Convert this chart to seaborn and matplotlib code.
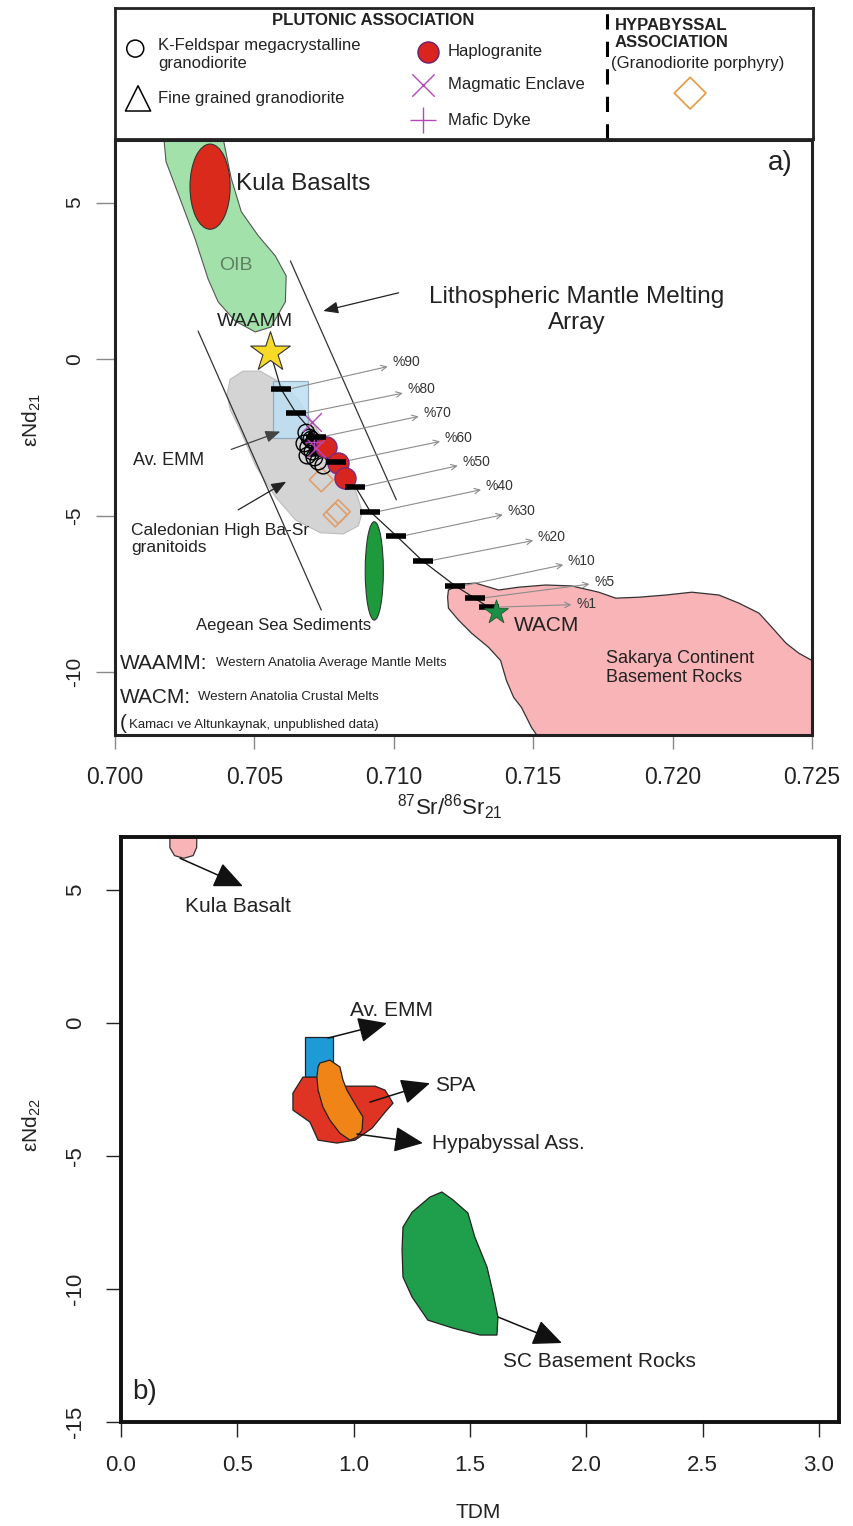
import matplotlib
matplotlib.use("Agg")
import matplotlib.pyplot as plt
from matplotlib.patches import Ellipse, Rectangle
import seaborn as sns

sns.set_theme(style="white")
plt.rcParams["font.family"] = ["Liberation Sans", "DejaVu Sans"]
plt.rcParams["mathtext.fontset"] = "custom"
plt.rcParams["mathtext.rm"] = "Liberation Sans"
plt.rcParams["mathtext.it"] = "Liberation Sans:italic"
plt.rcParams["axes.facecolor"] = "white"
plt.rcParams["figure.facecolor"] = "white"

# ---------------- panel a: 87Sr/86Sr vs eNd (21 Ma) ----------------
# reference fields
oib_sr = [0.70172, 0.70183, 0.70233, 0.70287, 0.70334, 0.70370, 0.70431, 0.70503, 0.70560,
          0.70611, 0.70614, 0.70575, 0.70514, 0.70453, 0.70417, 0.70395, 0.70381]
oib_nd = [7.37, 6.31, 5.13, 3.85, 2.56, 1.83, 1.22, 0.87, 1.03,
          1.83, 2.66, 3.30, 3.94, 4.71, 5.77, 6.73, 7.37]

caledonian_sr = [0.70460, 0.70413, 0.70402, 0.70413, 0.70453, 0.70506, 0.70575, 0.70647, 0.70736,
                 0.70819, 0.70873, 0.70887, 0.70862, 0.70801, 0.70729, 0.70657, 0.70585, 0.70521]
caledonian_nd = [-0.38, -0.64, -1.12, -1.60, -2.34, -3.43, -4.39, -5.13, -5.54,
                 -5.58, -5.32, -4.87, -4.17, -3.30, -2.31, -1.28, -0.71, -0.38]

sakarya_sr = [0.71196, 0.71243, 0.71293, 0.71376, 0.71448, 0.71545, 0.71638, 0.71735, 0.71796,
              0.71879, 0.71976, 0.72069, 0.72166, 0.72238, 0.72310, 0.72356, 0.72407, 0.72453,
              0.72500, 0.72525, 0.72525, 0.71519, 0.71519, 0.71494, 0.71458, 0.71430, 0.71404,
              0.71383, 0.71340, 0.71279, 0.71232, 0.71196, 0.71193]
sakarya_nd = [-7.37, -7.18, -7.15, -7.37, -7.28, -7.21, -7.24, -7.44, -7.63,
              -7.60, -7.53, -7.44, -7.53, -7.79, -8.11, -8.56, -9.07, -9.39,
              -9.62, -9.62, -12.34, -12.34, -12.08, -11.76, -11.12, -10.80, -10.26,
              -9.62, -9.20, -8.75, -8.33, -7.95, -7.60]

# Av. EMM box (Sr min, Sr max, Nd min, Nd max)
emm_box_a = [0.70568, 0.70693, -2.50, -0.71]
# ellipse fields: centre Sr, centre Nd, Sr width, Nd height
kula_ell = [0.70341, 5.51, 0.00144, 2.72]
aegean_ell = [0.70930, -6.76, 0.00065, 3.14]

# lithospheric mantle melting array bounds (two lines)
lmma_left_sr = [0.70298, 0.70740]
lmma_left_nd = [0.90, -8.01]
lmma_right_sr = [0.70629, 0.71009]
lmma_right_nd = [3.14, -4.49]

# end-members
waamm_sr, waamm_nd = 0.70557, 0.22
wacm_sr, wacm_nd = 0.71365, -8.08

# mixing model (percent mantle component)
mix_pct = [90, 80, 70, 60, 50, 40, 30, 20, 10, 5, 1]
mix_sr = [0.70596, 0.70650, 0.70722, 0.70794, 0.70862, 0.70916, 0.71009, 0.71103, 0.71221, 0.71290, 0.71340]
mix_nd = [-0.96, -1.73, -2.47, -3.27, -4.07, -4.87, -5.64, -6.44, -7.24, -7.63, -7.92]

# samples
kfs_sr = [0.70686, 0.70697, 0.70679, 0.70693, 0.70708, 0.70690, 0.70715, 0.70729, 0.70722, 0.70704, 0.70747]
kfs_nd = [-2.34, -2.50, -2.69, -2.82, -2.95, -3.08, -3.14, -3.27, -2.72, -2.56, -3.40]
fine_sr = [0.70700, 0.70715]
fine_nd = [-2.44, -2.88]
haplo_sr = [0.70758, 0.70801, 0.70826]
haplo_nd = [-2.79, -3.33, -3.78]
enclave_sr = [0.70708, 0.70722]
enclave_nd = [-2.02, -2.82]
dyke_sr = [0.70715]
dyke_nd = [-2.63]
porphyry_sr = [0.70740, 0.70790, 0.70801]
porphyry_nd = [-3.85, -4.97, -4.87]

# ---------------- panel b: TDM vs eNd (22 Ma) ----------------
kula_b_tdm = [0.21, 0.21, 0.23, 0.27, 0.31, 0.325, 0.327]
kula_b_nd = [7.5, 6.6, 6.3, 6.2, 6.3, 6.6, 7.5]
emm_box_b = [0.791, 0.911, -2.03, -0.53]
spa_tdm = [0.782, 0.739, 0.739, 0.812, 0.847, 0.928, 1.006, 1.079, 1.135, 1.169, 1.135, 1.092, 0.963, 0.898, 0.855]
spa_nd = [-2.03, -2.63, -3.27, -3.72, -4.40, -4.51, -4.40, -3.95, -3.35, -3.01, -2.52, -2.37, -2.37, -2.26, -2.03]
hyp_tdm = [0.855, 0.898, 0.941, 0.954, 0.971, 1.014, 1.040, 1.036, 1.014, 0.984, 0.941, 0.898, 0.868, 0.847, 0.842, 0.847]
hyp_nd = [-1.50, -1.39, -1.65, -2.14, -2.52, -3.16, -3.53, -4.02, -4.29, -4.40, -4.14, -3.65, -3.16, -2.52, -2.03, -1.65]
scb_tdm = [1.379, 1.328, 1.251, 1.212, 1.208, 1.212, 1.251, 1.319, 1.427, 1.543, 1.616, 1.620, 1.599, 1.573, 1.521, 1.491, 1.427]
scb_nd = [-6.35, -6.54, -7.11, -7.67, -8.53, -9.55, -10.30, -11.17, -11.47, -11.73, -11.73, -11.05, -10.15, -9.17, -8.05, -7.14, -6.65]

# ---------------- figure ----------------
W, H = 854, 1526
fig = plt.figure(figsize=(W / 100, H / 100), dpi=100)


def box(l, t, r, b):
    return [l / W, 1 - b / H, (r - l) / W, (b - t) / H]


ax_leg = fig.add_axes(box(115, 8, 813, 139))
ax_a = fig.add_axes(box(115, 140, 812, 735))
ax_b = fig.add_axes(box(121, 837, 839, 1422))

TXT = "#222222"

# ---------- legend panel ----------
ax_leg.set_xlim(0, 1)
ax_leg.set_ylim(0, 1)
ax_leg.set_xticks([])
ax_leg.set_yticks([])
for s in ax_leg.spines.values():
    s.set_linewidth(2.0)
    s.set_color("#222222")
ax_leg.text(0.37, 0.905, "PLUTONIC ASSOCIATION", fontsize=12, fontweight="bold", ha="center", va="center", color=TXT)
ax_leg.scatter([0.029], [0.69], s=150, marker="o", facecolors="none", edgecolors="black", linewidths=1.1)
ax_leg.text(0.062, 0.645, "K-Feldspar megacrystalline\ngranodiorite", fontsize=12, ha="left", va="center",
            color=TXT, linespacing=1.2)
ax_leg.scatter([0.033], [0.31], s=330, marker="^", facecolors="none", edgecolors="black", linewidths=1.1)
ax_leg.text(0.062, 0.31, "Fine grained granodiorite", fontsize=12, ha="left", va="center", color=TXT)
ax_leg.scatter([0.448], [0.665], s=230, marker="o", facecolors="#d8251f", edgecolors="#6a2070", linewidths=1.0)
ax_leg.text(0.477, 0.665, "Haplogranite", fontsize=12, ha="left", va="center", color=TXT)
ax_leg.scatter([0.441], [0.415], s=260, marker="x", color="#b548b5", linewidths=1.0)
ax_leg.text(0.477, 0.415, "Magmatic Enclave", fontsize=12, ha="left", va="center", color=TXT)
ax_leg.scatter([0.441], [0.145], s=330, marker="+", color="#b548b5", linewidths=1.0)
ax_leg.text(0.477, 0.145, "Mafic Dyke", fontsize=12, ha="left", va="center", color=TXT)
ax_leg.plot([0.705, 0.705], [0, 1], color="black", lw=2.2, ls=(0, (5, 4)))
ax_leg.text(0.716, 0.80, "HYPABYSSAL\nASSOCIATION", fontsize=12, fontweight="bold", ha="left", va="center",
            color=TXT, linespacing=1.15)
ax_leg.text(0.711, 0.575, "(Granodiorite porphyry)", fontsize=12, ha="left", va="center", color=TXT)
ax_leg.scatter([0.824], [0.35], s=260, marker="D", facecolors="none", edgecolors="#e79a3c", linewidths=1.2)

# ---------- panel a ----------
ax = ax_a
ax.set_xlim(0.700, 0.725)
ax.set_ylim(-12, 7)

ax.fill(oib_sr, oib_nd, facecolor="#a2e2aa", edgecolor="#555555", lw=0.8, zorder=1)
ax.add_patch(Ellipse((kula_ell[0], kula_ell[1]), kula_ell[2], kula_ell[3],
                     facecolor="#da2a1c", edgecolor="#333333", lw=0.8, zorder=2))
ax.fill(caledonian_sr, caledonian_nd, facecolor="#d4d4d4", edgecolor="#bcbcbc", lw=0.8, zorder=1)
ax.fill(sakarya_sr, sakarya_nd, facecolor="#f8b4b6", edgecolor="#333333", lw=0.9, zorder=1)
ax.add_patch(Rectangle((emm_box_a[0], emm_box_a[2]), emm_box_a[1] - emm_box_a[0], emm_box_a[3] - emm_box_a[2],
                       facecolor="#bcdff3", edgecolor="#8aa2b8", lw=0.9, alpha=0.85, zorder=2))
ax.add_patch(Ellipse((aegean_ell[0], aegean_ell[1]), aegean_ell[2], aegean_ell[3],
                     facecolor="#1c9a3c", edgecolor="#333333", lw=0.8, zorder=2))

ax.plot(lmma_left_sr, lmma_left_nd, color="#333333", lw=0.9, zorder=2)
ax.plot(lmma_right_sr, lmma_right_nd, color="#333333", lw=0.9, zorder=2)

# mixing curve between the two end-members
curve_sr = [waamm_sr] + mix_sr + [wacm_sr]
curve_nd = [waamm_nd] + mix_nd + [wacm_nd]
sns.lineplot(x=curve_sr, y=curve_nd, sort=False, estimator=None, color="#222222", lw=0.9, ax=ax, zorder=3)

# percentage labels (offsets in points from each tick)
label_dx = [75, 75, 72, 73, 72, 78, 75, 78, 76, 81, 58]
label_dy = [19.4, 17.3, 17.3, 17.3, 18.0, 18.7, 18.0, 17.3, 18.0, 11.5, 2.2]
for p, x, y, dx, dy in zip(mix_pct, mix_sr, mix_nd, label_dx, label_dy):
    ax.annotate(f"%{p}", xy=(x + 0.00025, y), xytext=(dx, dy), textcoords="offset points",
                fontsize=10, color="#333333", ha="left", va="center", zorder=4,
                arrowprops=dict(arrowstyle="<-", color="#8c8c8c", lw=0.8, shrinkA=1, shrinkB=0))

sns.scatterplot(x=kfs_sr, y=kfs_nd, marker="o", s=140, color="none", edgecolor="black", linewidth=1.0,
                ax=ax, zorder=5)
sns.scatterplot(x=fine_sr, y=fine_nd, marker="^", s=90, color="black", edgecolor="black", linewidth=0.8,
                ax=ax, zorder=5)
sns.scatterplot(x=porphyry_sr, y=porphyry_nd, marker="D", s=150, color="none", edgecolor="#dca070",
                linewidth=1.2, ax=ax, zorder=4)
sns.scatterplot(x=haplo_sr, y=haplo_nd, marker="o", s=230, color="#d8251f", edgecolor="#7a2a80",
                linewidth=1.0, ax=ax, zorder=6)
sns.scatterplot(x=enclave_sr, y=enclave_nd, marker="x", s=180, color="#b548b5", linewidth=1.0, ax=ax, zorder=7)
sns.scatterplot(x=dyke_sr, y=dyke_nd, marker="+", s=180, color="#b548b5", linewidth=1.0, ax=ax, zorder=7)
sns.scatterplot(x=mix_sr, y=mix_nd, marker="_", s=220, color="black", linewidth=4.0, ax=ax, zorder=8)
sns.scatterplot(x=[waamm_sr], y=[waamm_nd], marker="*", s=900, color="#f7d927", edgecolor="#333333",
                linewidth=0.8, ax=ax, zorder=6)
sns.scatterplot(x=[wacm_sr], y=[wacm_nd], marker="*", s=330, color="#1a9046", edgecolor="#1a5a30",
                linewidth=0.6, ax=ax, zorder=9)

ax.text(0.70435, 5.61, "Kula Basalts", fontsize=17.5, ha="left", va="center", color=TXT, zorder=10)
ax.text(0.70435, 2.98, "OIB", fontsize=14, ha="center", va="center", color="#5f7f62", zorder=10)
ax.text(0.70503, 1.22, "WAAMM", fontsize=14, ha="center", va="center", color=TXT, zorder=10)
ax.text(0.71656, 1.57, "Lithospheric Mantle Melting\nArray", fontsize=17.5, ha="center", va="center",
        color=TXT, linespacing=1.2, zorder=10)
ax.annotate("", xy=(0.70747, 1.54), xytext=(0.71017, 2.12),
            arrowprops=dict(arrowstyle="-|>,head_length=0.5,head_width=0.2", mutation_scale=18,
                            color="#222222", lw=0.9, shrinkA=0, shrinkB=0))
ax.text(0.70065, -3.24, "Av. EMM", fontsize=13, ha="left", va="center", color=TXT, zorder=10)
ax.annotate("", xy=(0.70593, -2.31), xytext=(0.70417, -2.88),
            arrowprops=dict(arrowstyle="-|>,head_length=0.5,head_width=0.2", mutation_scale=18,
                            color="#444444", lw=0.9, shrinkA=0, shrinkB=0), zorder=9)
ax.text(0.70057, -5.74, "Caledonian High Ba-Sr\ngranitoids", fontsize=12.5, ha="left", va="center",
        color=TXT, linespacing=1.2, zorder=10)
ax.annotate("", xy=(0.70614, -3.91), xytext=(0.70442, -4.81),
            arrowprops=dict(arrowstyle="-|>,head_length=0.5,head_width=0.2", mutation_scale=18,
                            color="#222222", lw=0.9, shrinkA=0, shrinkB=0), zorder=9)
ax.text(0.70291, -8.49, "Aegean Sea Sediments", fontsize=12, ha="left", va="center", color=TXT, zorder=10)
ax.text(0.71430, -8.49, "WACM", fontsize=15, ha="left", va="center", color=TXT, zorder=10)
ax.text(0.71760, -9.87, "Sakarya Continent\nBasement Rocks", fontsize=13, ha="left", va="center",
        color=TXT, linespacing=1.15, zorder=10)
ax.text(0.72385, 6.25, "a)", fontsize=20, ha="center", va="center", color=TXT, zorder=10)

ax.text(0.70018, -9.71, "WAAMM:", fontsize=15, ha="left", va="center", color=TXT)
ax.text(0.70363, -9.71, "Western Anatolia Average Mantle Melts", fontsize=9.5, ha="left", va="center", color=TXT)
ax.text(0.70018, -10.80, "WACM:", fontsize=15, ha="left", va="center", color=TXT)
ax.text(0.70298, -10.80, "Western Anatolia Crustal Melts", fontsize=9.5, ha="left", va="center", color=TXT)
ax.text(0.70018, -11.62, "(", fontsize=15, ha="left", va="center", color=TXT)
ax.text(0.70050, -11.67, "Kamacı ve Altunkaynak, unpublished data)", fontsize=9.5, ha="left", va="center",
        color=TXT)

ax.set_xticks([0.700, 0.705, 0.710, 0.715, 0.720, 0.725])
ax.set_xticklabels(["0.700", "0.705", "0.710", "0.715", "0.720", "0.725"])
ax.set_yticks([5, 0, -5, -10])
ax.set_yticklabels(["5", "0", "-5", "-10"], rotation=90, va="center")
ax.tick_params(axis="x", direction="out", length=10, width=1.0, color="#888888", labelsize=16.5, pad=12,
               labelcolor=TXT, bottom=True)
ax.tick_params(axis="y", direction="out", length=14, width=1.0, color="#888888", labelsize=15, pad=8,
               labelcolor=TXT, left=True)
for s in ax.spines.values():
    s.set_linewidth(2.2)
    s.set_color("#222222")
ax.set_xlabel("")
ax.set_ylabel("")
fig.text(450 / W, 1 - 807 / H, r"$\mathregular{^{87}Sr/^{86}Sr_{21}}$", fontsize=16, ha="center", va="center",
         color=TXT)
fig.text(32 / W, 1 - 420 / H, r"ε$\mathregular{Nd_{21}}$", fontsize=15, ha="center", va="center",
         rotation=90, color=TXT)

# ---------- panel b ----------
ax = ax_b
ax.set_xlim(0, 3.086)
ax.set_ylim(-15, 7)
ax.fill(kula_b_tdm, kula_b_nd, facecolor="#f8b4b6", edgecolor="#333333", lw=0.9, zorder=1)
ax.add_patch(Rectangle((emm_box_b[0], emm_box_b[2]), emm_box_b[1] - emm_box_b[0], emm_box_b[3] - emm_box_b[2],
                       facecolor="#1e9ad6", edgecolor="#222222", lw=0.9, zorder=1))
ax.fill(spa_tdm, spa_nd, facecolor="#df3424", edgecolor="#222222", lw=0.9, zorder=2)
ax.fill(hyp_tdm, hyp_nd, facecolor="#f08416", edgecolor="#222222", lw=0.9, zorder=3)
ax.fill(scb_tdm, scb_nd, facecolor="#1f9e4c", edgecolor="#222222", lw=0.9, zorder=2)

big_head = dict(arrowstyle="-|>,head_length=0.9,head_width=0.4", mutation_scale=20, color="#111111", lw=1.1,
                shrinkA=0, shrinkB=0)
ax.annotate("", xy=(0.524, 5.15), xytext=(0.254, 6.2), arrowprops=big_head, zorder=4)
ax.text(0.275, 4.4, "Kula Basalt", fontsize=15, ha="left", va="center", color=TXT)
ax.annotate("", xy=(1.143, 0.0), xytext=(0.89, -0.56), arrowprops=big_head, zorder=4)
ax.text(0.984, 0.49, "Av. EMM", fontsize=15, ha="left", va="center", color=TXT)
ax.annotate("", xy=(1.328, -2.26), xytext=(1.07, -2.97), arrowprops=big_head, zorder=4)
ax.text(1.349, -2.33, "SPA", fontsize=15, ha="left", va="center", color=TXT)
ax.annotate("", xy=(1.298, -4.51), xytext=(1.014, -4.17), arrowprops=big_head, zorder=4)
ax.text(1.336, -4.51, "Hypabyssal Ass.", fontsize=15, ha="left", va="center", color=TXT)
ax.annotate("", xy=(1.895, -12.03), xytext=(1.62, -11.05), arrowprops=big_head, zorder=4)
ax.text(1.642, -12.74, "SC Basement Rocks", fontsize=15, ha="left", va="center", color=TXT)
ax.text(0.05, -13.87, "b)", fontsize=20, ha="left", va="center", color=TXT)

NARROW = ["Liberation Sans Narrow", "Liberation Sans", "DejaVu Sans"]
ax.set_xticks([0.0, 0.5, 1.0, 1.5, 2.0, 2.5, 3.0])
ax.set_xticklabels(["0.0", "0.5", "1.0", "1.5", "2.0", "2.5", "3.0"], family=NARROW)
ax.set_yticks([5, 0, -5, -10, -15])
ax.set_yticklabels(["5", "0", "-5", "-10", "-15"], rotation=90, va="center", family=NARROW)
ax.tick_params(axis="x", direction="out", length=11, width=1.0, color="#222222", labelsize=16, pad=13,
               labelcolor=TXT, bottom=True)
ax.tick_params(axis="y", direction="out", length=11, width=1.0, color="#222222", labelsize=16, pad=14,
               labelcolor=TXT, left=True)
for s in ax.spines.values():
    s.set_linewidth(2.8)
    s.set_color("#111111")
ax.set_xlabel("")
ax.set_ylabel("")
fig.text(478 / W, 1 - 1512 / H, "TDM", fontsize=15, ha="center", va="center", color=TXT, family=NARROW)
fig.text(32 / W, 1 - 1125 / H, r"ε$\mathregular{Nd_{22}}$", fontsize=15, ha="center", va="center",
         rotation=90, color=TXT)

fig.savefig("out.png", dpi=100, facecolor="white")
